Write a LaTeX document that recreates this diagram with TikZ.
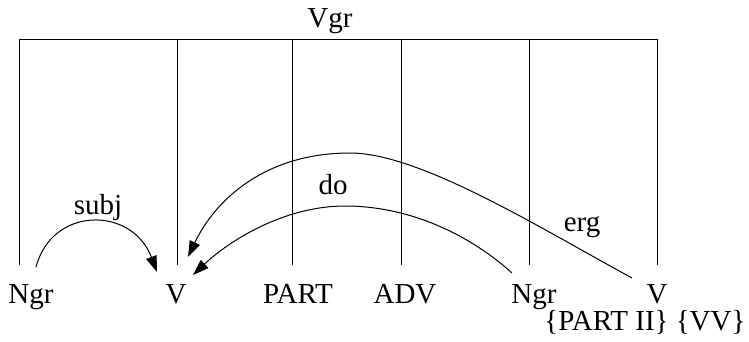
\documentclass[tikz,border=0pt]{standalone}
\usepackage{fontspec}
\setmainfont{Liberation Serif}
\usetikzlibrary{arrows.meta}

\begin{document}
\begin{tikzpicture}[x=0.5pt, y=-0.5pt, line width=0.5pt,
    >={Triangle[length=8pt,width=5.5pt]},
    font=\fontsize{14.5}{17}\selectfont]

\tikzstyle{word}=[anchor=base, inner sep=0pt]
\tikzstyle{rel}=[->]

\useasboundingbox (0,0) rectangle (749,342);

% the group and its bar
\node[word] (Vgr) at (330,28) {Vgr};
\coordinate (bar_l) at (19,39.5);
\coordinate (bar_r) at (657,39.5);
\draw (bar_l) -- (bar_r);
\foreach \x/\n in {19/1,177/2,292/3,401/4,529/5,657/6} {
  \coordinate (top_\n) at (\x,39.5);
  \coordinate (bot_\n) at (\x,265);
  \draw (top_\n) -- (bot_\n);
}

% words
\node[word] (Ngr_0) at (31,303) {Ngr};
\node[word] (V_0) at (176,303) {V};
\node[word] (Part) at (298,303) {PART};
\node[word] (Adv) at (405,303) {ADV};
\node[word] (Ngr_1) at (534,303) {Ngr};
\node[word] (V_1) at (657,303) {V};
\node[word] (Feat) at (645,330) {\{PART II\} \{VV\}};

% ends of the relations
\coordinate (subj_s) at (36,267);
\coordinate (subj_e) at (157,272);
\coordinate (erg_s) at (632,278);
\coordinate (erg_e) at (188,257);
\coordinate (do_s) at (512,273);
\coordinate (do_e) at (193,275);

\draw[rel] (subj_s) .. controls (52,206) and (132,206) .. (subj_e);
\draw[rel] (erg_s) .. controls (540,228) and (420,153) .. (350,153)
  .. controls (265,153) and (215,200) .. (erg_e);
\draw[rel] (do_s) .. controls (470,235) and (410,206) .. (345,206)
  .. controls (285,206) and (230,240) .. (do_e);

\node[word] (Subj) at (98,214) {subj};
\node[word] (Do) at (333,194) {do};
\node[word] (Erg) at (582,231) {erg};

\end{tikzpicture}
\end{document}
